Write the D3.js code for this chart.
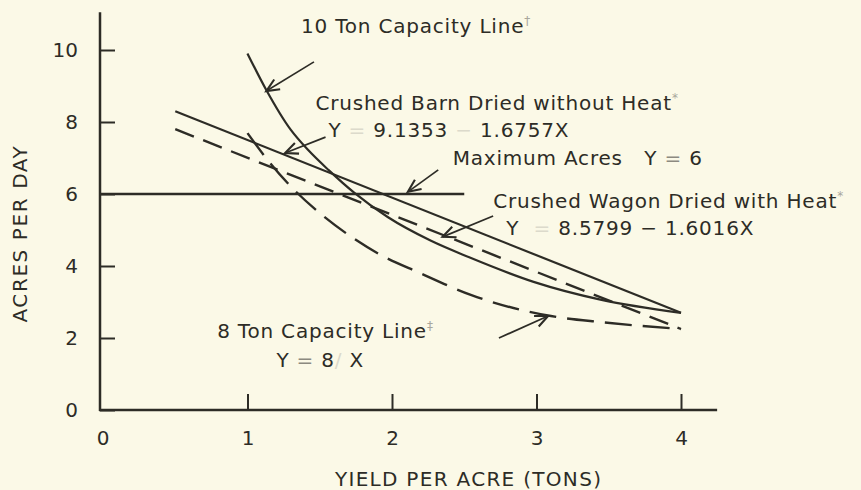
<!DOCTYPE html>
<html><head><meta charset="utf-8">
<script src="https://cdn.jsdelivr.net/npm/d3@7"></script>
<style>
html,body{margin:0;padding:0;background:#fbf9e7;}
svg{display:block;}
text{font-family:"DejaVu Sans",sans-serif;fill:#2d2c26;}
</style>
</head><body>
<svg id="c" width="861" height="490"></svg>
<script>
// ---------- data ----------
const xTicks = [0, 1, 2, 3, 4];
const yTicks = [0, 2, 4, 6, 8, 10];
const xTitle = "YIELD PER ACRE (TONS)";
const yTitle = "ACRES PER DAY";

// Crushed Barn Dried without Heat  (solid straight line)
const barnX = [0.5, 4.0];
const barnY = [8.3, 2.7];
// Crushed Wagon Dried with Heat  (dashed straight line)
const wagonX = [0.5, 4.0];
const wagonY = [7.8, 2.25];
// 10 Ton Capacity Line (solid curve)
const cap10X = [1.0, 1.13, 1.3, 1.42, 1.56, 1.74, 1.97, 2.27, 2.53, 2.98, 3.45, 4.0];
const cap10Y = [9.9, 8.89, 7.78, 7.22, 6.67, 6.03, 5.36, 4.7, 4.25, 3.56, 3.06, 2.7];
// 8 Ton Capacity Line (dashed curve)
const cap8X = [1.0, 1.14, 1.29, 1.5, 1.7, 1.92, 2.19, 2.55, 3.1, 3.45, 4.0];
const cap8Y = [7.69, 6.94, 6.25, 5.47, 4.86, 4.31, 3.81, 3.19, 2.61, 2.44, 2.25];
// Maximum Acres Y = 6
const maxX = [0, 2.5];
const maxY = [6, 6];

// annotation arrows in data units
const arrowFromX = [1.46, 1.54, 2.32, 2.70, 2.74];
const arrowFromY = [9.67, 7.58, 6.67, 5.39, 2.00];
const arrowToX   = [1.13, 1.26, 2.11, 2.35, 3.08];
const arrowToY   = [8.86, 7.14, 6.06, 4.81, 2.61];

// labels: anchor (data units) and pieces [text, kind]
const labelX = [1.37, 1.47, 1.56, 2.42, 2.70, 2.79, 0.79, 1.20];
const labelY = [10.47, 8.33, 7.58, 6.81, 5.61, 4.86, 2.0, 1.19];
const labelParts = [
  [["10 Ton Capacity Line","n"],["†","sup"]],
  [["Crushed Barn Dried without Heat","n"],["*","sup"]],
  [["Y ","n"],["=","faint"],[" 9.1353 ","n"],["−","faint"],[" 1.6757X","n"]],
  [["Maximum Acres","n"],["   Y ","n"],["=","mid"],[" 6","n"]],
  [["Crushed Wagon Dried with Heat","n"],["*","sup"]],
  [["Y  ","n"],["=","faint"],[" 8.5799 ","n"],["−","n"],[" 1.6016X","n"]],
  [["8 Ton Capacity Line","n"],["‡","sup"]],
  [["Y ","n"],["=","mid"],[" 8","n"],["/","faint"],[" X","n"]]
];

// ---------- drawing ----------
const W = 861, H = 490;
const svg = d3.select("#c");
svg.append("rect").attr("width", W).attr("height", H).attr("fill", "#fbf9e7");

const x = d3.scaleLinear().domain([0, 4]).range([103, 681]);
const y = d3.scaleLinear().domain([0, 10]).range([410, 50]);
const ink = "#2d2c26";
const FS = 20;
const LS = 0.8;

// axes
const yAxisG = svg.append("g").attr("transform", `translate(${x(0) - 3},0)`)
  .call(d3.axisLeft(y).tickValues(yTicks).tickSizeInner(-15).tickSizeOuter(0).tickPadding(22).tickFormat(d3.format("d")));
const xAxisG = svg.append("g").attr("transform", `translate(0,${y(0)})`)
  .call(d3.axisBottom(x).tickValues(xTicks.slice(1)).tickSizeInner(-16).tickSizeOuter(0).tickPadding(21).tickFormat(d3.format("d")));
xAxisG.append("text").attr("x", x(0)).attr("y", 21).attr("dy", "0.71em").attr("text-anchor", "middle").text(xTicks[0]);
[yAxisG, xAxisG].forEach(g => {
  g.select(".domain").remove();
  g.selectAll("line").attr("stroke", ink).attr("stroke-width", 2);
  g.selectAll("text").attr("font-size", FS).attr("font-family", '"DejaVu Sans",sans-serif').attr("fill", ink);
});
svg.append("line").attr("x1", x(0) - 3).attr("x2", x(0) - 3).attr("y1", y(0) + 1).attr("y2", y(11.05))
  .attr("stroke", ink).attr("stroke-width", 2.5);
svg.append("line").attr("x1", x(0) - 4).attr("x2", x(4.25)).attr("y1", y(0)).attr("y2", y(0))
  .attr("stroke", ink).attr("stroke-width", 2.5);

// axis titles
svg.append("text").attr("transform", `translate(${x(0) - 76},${y(4.9)}) rotate(-90)`)
  .attr("text-anchor", "middle").attr("font-size", FS).attr("letter-spacing", 1.6).text(yTitle);
svg.append("text").attr("x", x(2.53)).attr("y", H - 4)
  .attr("text-anchor", "middle").attr("font-size", FS).attr("letter-spacing", 1.3).text(xTitle);

// series
const line = d3.line().x(d => x(d[0])).y(d => y(d[1]));
const smooth = d3.line().x(d => x(d[0])).y(d => y(d[1])).curve(d3.curveMonotoneX);
const zip = (a, b) => a.map((v, i) => [v, b[i]]);

function draw(gen, pts, dash, w) {
  svg.append("path").attr("d", gen(pts)).attr("fill", "none").attr("stroke", ink)
    .attr("stroke-width", w).attr("stroke-dasharray", dash).attr("stroke-linecap", "butt");
}
draw(line, zip(maxX, maxY).map((d, i) => i === 0 ? [d[0] - 0.02, d[1]] : d), null, 2.3);
draw(line, zip(barnX, barnY), null, 2.2);
draw(line, zip(wagonX, wagonY), "20,10", 2.4);
draw(smooth, zip(cap10X, cap10Y), null, 2.2);
draw(smooth, zip(cap8X, cap8Y), "27,11", 2.4);

// arrows
arrowFromX.forEach((fx, i) => {
  const x1 = x(fx), y1 = y(arrowFromY[i]), x2 = x(arrowToX[i]), y2 = y(arrowToY[i]);
  const a = Math.atan2(y2 - y1, x2 - x1), L = 14, th = 0.42;
  svg.append("line").attr("x1", x1).attr("y1", y1).attr("x2", x2).attr("y2", y2)
    .attr("stroke", ink).attr("stroke-width", 1.7);
  const b1 = [x2 - L * Math.cos(a - th), y2 - L * Math.sin(a - th)];
  const b2 = [x2 - L * Math.cos(a + th), y2 - L * Math.sin(a + th)];
  svg.append("path").attr("d", `M${b1}L${x2},${y2}L${b2}`).attr("fill", "none")
    .attr("stroke", ink).attr("stroke-width", 2.1);
});

// labels
const kindFill = {n: ink, faint: "#dcdacb", mid: "#8c8a80", sup: "#a9a79c"};
labelParts.forEach((parts, i) => {
  const t = svg.append("text").attr("x", x(labelX[i])).attr("y", y(labelY[i]))
    .attr("font-size", FS).attr("letter-spacing", LS).attr("xml:space", "preserve").style("white-space", "pre");
  parts.forEach(([s, k]) => {
    const ts = t.append("tspan").text(s).attr("fill", kindFill[k]);
    if (k === "sup") ts.attr("font-size", 12).attr("dy", -8);
  });
});
</script>
</body></html>
